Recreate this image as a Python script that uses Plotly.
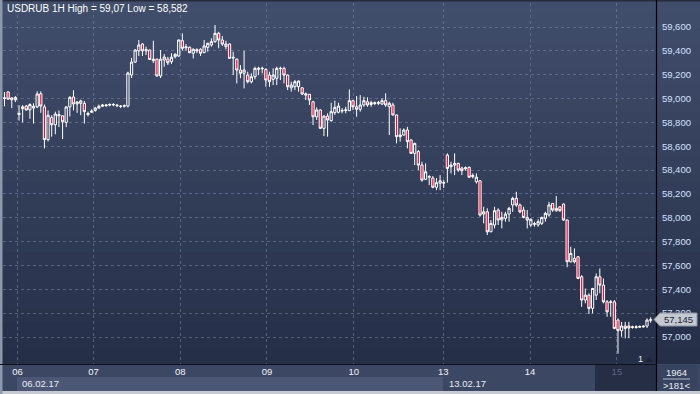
import plotly.graph_objects as go

# ---------------- data (USDRUB 1H) ----------------
open_ = [59000,59055,58990,59010,58865,58915,58937,58905,58920,58930,59040,58930,58655,58840,58780,58855,58855,58800,58930,59013,
         58955,58960,58960,58865,58885,58900,58920,58935,58940,58945,58948,58945,58935,58935,58937,59197,59306,59400,59457,59400,
         59407,59318,59330,59189,59323,59331,59310,59350,59357,59485,59425,59430,59380,59410,59413,59385,59430,59449,59477,59547,
         59491,59435,59457,59340,59330,59239,59212,59197,59141,59183,59245,59250,59245,59197,59161,59170,59250,59253,59197,59090,
         59099,59099,59090,59040,59035,58973,58847,58904,58750,58853,58815,58882,58885,58895,58900,58898,58982,58931,58910,58946,
         58973,58950,58958,58960,58954,58982,58931,58946,58862,58680,58694,58736,58652,58540,58555,58442,58322,58340,58333,58256,
         58290,58290,58526,58428,58442,58456,58417,58410,58423,58345,58302,58310,58031,58050,57882,57939,58065,57981,57995,58031,
         58107,58163,58107,58065,58003,57939,57945,57940,57953,57995,58023,58120,58059,58092,58115,57981,57631,57659,57673,57505,
         57310,57351,57240,57351,57505,57435,57295,57290,57295,57142,57053,57092,57092,57080,57080,57082,57085,57092,57140]
high = [59055,59060,59010,59020,58945,58945,58945,58960,58960,59060,59060,58950,58900,58860,58890,58900,58860,58935,59020,59070,
        58980,58990,58980,58890,58910,58930,58950,58955,58955,58960,58962,58955,58945,58950,59225,59340,59413,59491,59466,59435,
        59410,59485,59335,59407,59373,59350,59380,59380,59495,59547,59457,59436,59421,59421,59421,59491,59468,59505,59617,59560,
        59524,59485,59463,59393,59337,59281,59401,59225,59212,59267,59267,59267,59253,59225,59253,59267,59267,59267,59200,59141,
        59155,59150,59095,59050,59040,58980,58926,58910,58860,58876,58965,58982,58965,58920,58931,59077,58988,59021,59029,59015,
        59010,58982,58975,58980,59002,59044,58973,58965,58865,58750,58750,58763,58660,58630,58568,58470,58456,58358,58350,58333,
        58358,58316,58540,58470,58540,58462,58428,58430,58430,58372,58372,58316,58092,58079,57981,58092,58079,58050,58050,58092,
        58176,58218,58120,58092,58065,57995,57967,57987,58009,58050,58134,58120,58182,58095,58120,57985,57757,57743,57679,57519,
        57407,57366,57412,57533,57575,57491,57310,57310,57310,57156,57127,57127,57127,57095,57098,57098,57100,57156,57165]
low = [58935,58990,58920,58970,58815,58800,58900,58830,58790,58920,58880,58582,58640,58680,58700,58760,58660,58760,58850,58900,
       58880,58860,58790,58850,58880,58890,58915,58930,58930,58935,58935,58930,58920,58925,58925,59172,59298,59357,59357,59365,
       59323,59298,59185,59172,59267,59281,59290,59337,59350,59401,59401,59380,59337,59380,59357,59382,59393,59435,59468,59421,
       59441,59413,59335,59197,59127,59170,59085,59127,59127,59161,59197,59212,59099,59099,59113,59113,59155,59127,59071,59057,
       59071,59057,59030,58988,58946,58778,58820,58745,58685,58680,58805,58862,58876,58876,58876,58898,58904,58847,58890,58931,
       58931,58931,58945,58945,58946,58931,58694,58858,58624,58638,58690,58582,58535,58442,58400,58302,58316,58274,58247,58232,
       58232,58250,58294,58372,58358,58386,58358,58395,58335,58330,58288,58009,57953,57855,57880,57911,57939,57911,57967,57967,
       58050,58092,58037,57995,57911,57925,57925,57925,57939,57967,58009,58050,58050,58050,57975,57585,57625,57617,57485,57253,
       57282,57192,57198,57310,57366,57282,57170,57170,57065,56860,57002,56988,56990,57070,57070,57075,57078,57075,57120]
close = [59005,58995,59005,58990,58875,58930,58904,58950,58935,59038,58937,58655,58860,58780,58870,58865,58805,58930,59010,58955,
         58970,58980,58890,58875,58895,58920,58935,58945,58945,58950,58950,58940,58935,58940,59214,59306,59407,59449,59400,59410,
         59328,59330,59189,59330,59348,59300,59346,59371,59491,59421,59433,59385,59413,59400,59380,59441,59463,59477,59547,59491,
         59457,59457,59337,59345,59239,59212,59239,59141,59183,59253,59253,59253,59155,59141,59197,59253,59253,59197,59099,59113,
         59141,59147,59038,59030,58988,58847,58904,58750,58853,58820,58890,58926,58937,58900,58905,58982,58931,58910,58946,58982,
         58946,58965,58965,58965,58982,58946,58960,58862,58680,58694,58736,58638,58540,58624,58442,58316,58386,58345,58256,58294,
         58310,58295,58414,58442,58456,58400,58395,58420,58340,58355,58340,58023,58050,57882,57953,58059,57981,58003,58031,58079,
         58163,58107,58050,58003,57981,57987,57950,57967,58003,58037,58107,58065,58079,58059,57981,57631,57701,57631,57491,57310,
         57351,57240,57407,57505,57435,57295,57211,57295,57072,57053,57092,57072,57075,57085,57085,57088,57090,57142,57145]

bar_index = list(range(len(close)))
day_labels = ["06", "07", "08", "09", "10", "13", "14", "15"]
day_start_pos = [3.6, 24.5, 48.4, 72.3, 96.2, 120.9, 144.8, 168.7]
price_ticks = [57000, 57200, 57400, 57600, 57800, 58000, 58200, 58400, 58600, 58800, 59000, 59200, 59400, 59600]
week_labels = ["06.02.17", "13.02.17"]
last_price = "57,145"
title_text = "USDRUB 1H High = 59,07 Low = 58,582"

# ---------------- layout geometry (pixels) ----------------
W, H = 700, 394
PL, PR, PT, PB = 3, 656, 3, 364
PW, PH = PR - PL, PB - PT
PX_PER_BAR = 3.63
X_LEFT = -(4.5 - PL) / PX_PER_BAR
X_RIGHT = X_LEFT + PW / PX_PER_BAR
P_PER_PX = 2600 / 310.0
Y_TOP = 59600 + (27 - PT) * P_PER_PX
Y_BOT = 57000 - (PB - 337) * P_PER_PX


def px(X):
    return (X - PL) / PW


def py(Y):
    return (PB - Y) / PH


shapes = []


def rect(x0, y0, x1, y1, color, layer="below"):
    shapes.append(dict(type="rect", xref="paper", yref="paper", x0=px(x0), x1=px(x1),
                       y0=py(y1), y1=py(y0), fillcolor=color, line=dict(width=0), layer=layer))


# background gradient (bands)
top_c = (64, 77, 107)
bot_c = (38, 47, 72)
nb = 26
for i in range(nb):
    t = i / (nb - 1)
    c = tuple(int(round(top_c[k] + (bot_c[k] - top_c[k]) * t)) for k in range(3))
    y0 = i * PB / nb
    y1 = (i + 1) * PB / nb + 0.5
    rect(0, y0, W, y1, "rgb(%d,%d,%d)" % c)
rect(0, 0, W, 1.5, "#262c3c")

# bottom strips
rect(0, PB, W, 391, "#3c4764")
rect(17, 377, 443, 391, "#4c5776")
rect(595, PB + 1, PR, 391, "#262e46")
rect(PR, PB + 1, 697, 391, "#38435f")
rect(0, 391, W, H, "#c5cad3")
rect(0, 0, 2.5, H, "#8e98ac")
# separator lines
shapes.append(dict(type="line", xref="paper", yref="paper", x0=px(656.5), x1=px(656.5),
                   y0=py(391), y1=py(0), line=dict(color="#000000", width=1.2), layer="above"))
shapes.append(dict(type="line", xref="paper", yref="paper", x0=px(0), x1=px(656.5),
                   y0=py(364.5), y1=py(364.5), line=dict(color="#0d111c", width=1.2), layer="above"))
shapes.append(dict(type="line", xref="paper", yref="paper", x0=px(663), x1=px(690),
                   y0=py(379), y1=py(379), line=dict(color="#aeb8cc", width=1), layer="above"))
# price tag
shapes.append(dict(type="path", xref="paper", yref="paper",
                   path="M %f %f L %f %f L %f %f L %f %f L %f %f Z" % (
                       px(654), py(319.5), px(660), py(313), px(697), py(313), px(697), py(326), px(660), py(326)),
                   fillcolor="#c4c9d1", line=dict(color="#8c94a3", width=1), layer="above"))
# small triangle near "1"
shapes.append(dict(type="path", xref="paper", yref="paper",
                   path="M %f %f L %f %f L %f %f Z" % (px(645), py(362), px(649), py(357), px(653), py(362)),
                   fillcolor="#1d2336", line=dict(width=0), layer="above"))

FONT = "Liberation Sans, Arial"
annotations = [
    dict(text=title_text, xref="paper", yref="paper", x=px(5), y=py(8.5), xanchor="left", yanchor="middle",
         showarrow=False, font=dict(family=FONT, size=10, color="#ffffff")),
    dict(text=week_labels[0], xref="paper", yref="paper", x=px(20), y=py(384), xanchor="left", yanchor="middle",
         showarrow=False, font=dict(family=FONT, size=9.5, color="#e8ecf5")),
    dict(text=week_labels[1], xref="paper", yref="paper", x=px(447), y=py(384), xanchor="left", yanchor="middle",
         showarrow=False, font=dict(family=FONT, size=9.5, color="#e8ecf5")),
    dict(text="1964", xref="paper", yref="paper", x=px(676.5), y=py(372.5), xanchor="center", yanchor="middle",
         showarrow=False, font=dict(family=FONT, size=9.5, color="#e8ecf5")),
    dict(text="&gt;181&lt;", xref="paper", yref="paper", x=px(676.5), y=py(385), xanchor="center", yanchor="middle",
         showarrow=False, font=dict(family=FONT, size=9.5, color="#e8ecf5")),
    dict(text=last_price, xref="paper", yref="paper", x=px(678), y=py(319.5), xanchor="center", yanchor="middle",
         showarrow=False, font=dict(family=FONT, size=9.5, color="#1c2438")),
    dict(text="1", xref="paper", yref="paper", x=px(640), y=py(359), xanchor="center", yanchor="middle",
         showarrow=False, font=dict(family=FONT, size=9, color="#e8ecf5")),
]

ticktext = [("<span style='color:#5d6884'>%s</span>" % d) if d == "15" else d for d in day_labels]

fig = go.Figure(go.Candlestick(
    x=bar_index, open=open_, high=high, low=low, close=close,
    increasing=dict(line=dict(color="#ffffff", width=1), fillcolor="rgba(0,0,0,0)"),
    decreasing=dict(line=dict(color="#ffffff", width=1), fillcolor="#e8103c"),
    whiskerwidth=0, hoverinfo="skip", showlegend=False,
))

fig.update_layout(
    width=W, height=H,
    margin=dict(l=PL, r=W - PR, t=PT, b=H - PB, pad=0),
    paper_bgcolor="#2e3852", plot_bgcolor="rgba(0,0,0,0)",
    boxgap=0.12,
    shapes=shapes, annotations=annotations,
    xaxis=dict(range=[X_LEFT, X_RIGHT], rangeslider=dict(visible=False), tickmode="array",
               tickvals=day_start_pos, ticktext=ticktext, showgrid=True, gridcolor="rgba(120,135,165,0.55)",
               griddash="3px,3px", gridwidth=1, zeroline=False, showline=False, ticks="",
               tickfont=dict(family=FONT, size=9.5, color="#f2f4fa"), fixedrange=True),
    yaxis=dict(range=[Y_BOT, Y_TOP], side="right", tickmode="array", tickvals=price_ticks, tickformat=",d",
               showgrid=True, gridcolor="rgba(120,135,165,0.55)", griddash="3px,3px", gridwidth=1,
               zeroline=False, showline=False, ticks="outside", ticklen=3, tickcolor="rgba(0,0,0,0)",
               tickfont=dict(family=FONT, size=9.5, color="#d4e0ff"), fixedrange=True),
)

fig.write_html("out.html", config={"displayModeBar": False},
               post_script="document.body.style.margin='0px';document.body.style.overflow='hidden';")
